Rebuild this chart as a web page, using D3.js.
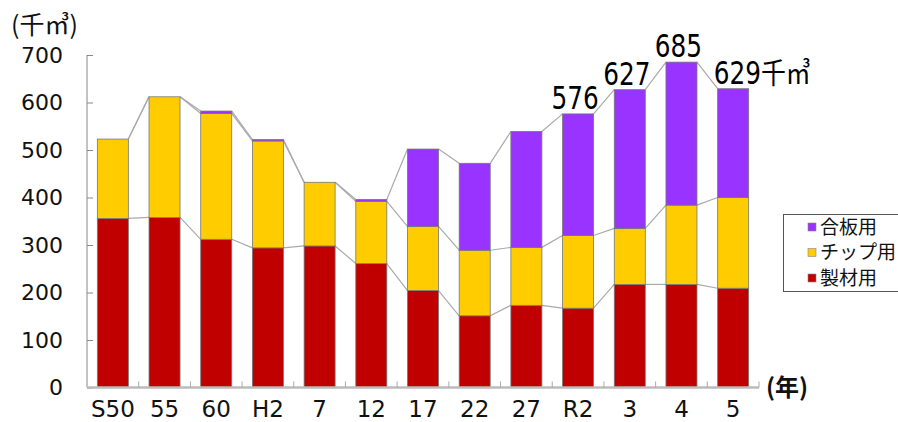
<!DOCTYPE html>
<html>
<head>
<meta charset="utf-8">
<script src="https://cdn.jsdelivr.net/npm/d3@7"></script>
<style>
  body { margin: 0; background: #fff; }
  svg { display: block; }
</style>
</head>
<body>
<div id="chart"></div>
<script>
// categories (year labels) and series values (千㎥)
const years = ["S50", "55", "60", "H2", "7", "12", "17", "22", "27", "R2", "3", "4", "5"];
const sawn    = [356, 358, 312, 294, 298, 261, 204, 151, 173, 167, 217, 217, 209]; // 製材用
const chip    = [167, 254, 265, 225, 134, 131, 135, 138, 122, 153, 118, 167, 191]; // チップ用
const plywood = [0, 0, 5, 3, 0, 4, 163, 183, 244, 256, 292, 301, 229];             // 合板用
const seriesNames = ["製材用", "チップ用", "合板用"];
const seriesColors = ["#C00000", "#FFCC00", "#9933FF"];
const yTicks = [0, 100, 200, 300, 400, 500, 600, 700];
// total labels shown above the last bars
const totalLabels = [
  { year: "R2", text: "576", unit: "" },
  { year: "3", text: "627", unit: "" },
  { year: "4", text: "685", unit: "" },
  { year: "5", text: "629", unit: "千㎥" }
];

const W = 898, H = 422;
const svg = d3.select("#chart").append("svg")
  .attr("width", W)
  .attr("height", H);

const x = d3.scaleBand().domain(years).range([87, 759]).paddingInner(0.4).paddingOuter(0.2);
const y = d3.scaleLinear().domain([0, 700]).range([387.5, 55]);

// build stacked table
const table = years.map((yr, i) => ({ year: yr, s0: sawn[i], s1: chip[i], s2: plywood[i] }));
const stack = d3.stack().keys(["s0", "s1", "s2"])(table);

// connecting lines between bars, at each cumulative level
const levels = stack.map(layer => layer.map(d => d[1]));
levels.forEach(lv => {
  for (let i = 0; i < years.length - 1; i++) {
    svg.append("line")
      .attr("x1", x(years[i]) + x.bandwidth())
      .attr("y1", y(lv[i]))
      .attr("x2", x(years[i + 1]))
      .attr("y2", y(lv[i + 1]))
      .style("stroke", "#aaa")
      .style("stroke-width", 1.2);
  }
});

// bars
stack.forEach((layer, k) => {
  svg.append("g").selectAll("rect")
    .data(layer.filter(d => d[1] > d[0]))
    .enter().append("rect")
    .attr("x", d => x(d.data.year))
    .attr("y", d => y(d[1]))
    .attr("width", x.bandwidth())
    .attr("height", d => y(d[0]) - y(d[1]))
    .style("fill", seriesColors[k])
    .style("stroke", "#777")
    .style("stroke-width", 0.8);
});

// y axis
const yAxis = svg.append("g").attr("transform", "translate(87,0)")
  .call(d3.axisRight(y).tickValues(yTicks).tickSize(6).tickFormat(""));
yAxis.select(".domain").attr("d", "M0," + y(700) + "V" + y(0)).style("stroke", "#888");
yAxis.selectAll(".tick line").style("stroke", "#888");

svg.append("g").selectAll("text")
  .data(yTicks)
  .enter().append("text")
  .attr("x", 63)
  .attr("y", d => y(d))
  .attr("dy", "0.36em")
  .attr("text-anchor", "end")
  .style("font-family", "DejaVu Sans")
  .style("font-size", "22px")
  .style("fill", "#111")
  .text(d => d);

// x axis
svg.append("line")
  .attr("x1", 87).attr("x2", 759)
  .attr("y1", y(0)).attr("y2", y(0))
  .style("stroke", "#bbb")
  .style("stroke-width", 2.5);
const step = x.step();
for (let i = 1; i <= years.length; i++) {
  const tx = 87 + step * i;
  svg.append("line")
    .attr("x1", tx).attr("x2", tx)
    .attr("y1", y(0)).attr("y2", y(0) - 6)
    .style("stroke", "#aaa");
}
svg.append("g").selectAll("text")
  .data(years)
  .enter().append("text")
  .attr("x", d => x(d) + x.bandwidth() / 2)
  .attr("y", 417)
  .attr("text-anchor", "middle")
  .style("font-family", "DejaVu Sans")
  .style("font-size", "23px")
  .style("fill", "#111")
  .text(d => d);

// axis titles
svg.append("text")
  .attr("x", 11).attr("y", 34)
  .style("font-family", "Noto Sans CJK JP")
  .style("font-size", "25px")
  .style("fill", "#111")
  .text("(千㎥)");
svg.append("text")
  .attr("x", 766).attr("y", 396)
  .style("font-family", "Noto Sans CJK JP")
  .style("font-size", "24px")
  .style("font-weight", "bold")
  .style("fill", "#111")
  .text("(年)");

// total labels
const totals = years.map((yr, i) => sawn[i] + chip[i] + plywood[i]);
totalLabels.forEach(l => {
  const i = years.indexOf(l.year);
  const cx = x(l.year) + x.bandwidth() / 2;
  const by = y(totals[i]) - 5;
  const g = svg.append("g");
  const t = g.append("text")
    .style("font-family", "Liberation Sans Narrow, DejaVu Sans Condensed")
    .style("font-size", "32px")
    .style("fill", "#000");
  t.append("tspan").text(l.text);
  if (l.unit) {
    t.append("tspan").style("font-family", "Noto Sans CJK JP").style("font-size", "29px").text(l.unit);
    g.attr("transform", "translate(" + (x(l.year) - 4) + "," + by + ") scale(0.86,1)");
  } else {
    t.attr("text-anchor", "middle");
    g.attr("transform", "translate(" + (cx - 3) + "," + by + ") scale(0.86,1)");
  }
});

// legend
const lg = svg.append("g");
lg.append("rect")
  .attr("x", 783.5).attr("y", 214.5)
  .attr("width", 130).attr("height", 77)
  .style("fill", "#fff")
  .style("stroke", "#555");
const legendOrder = [2, 1, 0];
legendOrder.forEach((k, j) => {
  const ly = 227 + j * 25.5;
  lg.append("rect")
    .attr("x", 808).attr("y", ly - 4)
    .attr("width", 8).attr("height", 8)
    .style("fill", seriesColors[k])
    .style("stroke", "#888")
    .style("stroke-width", 0.6);
  lg.append("text")
    .attr("x", 820).attr("y", ly)
    .attr("dy", "0.36em")
    .style("font-family", "Noto Sans CJK JP")
    .style("font-size", "19px")
    .style("fill", "#111")
    .text(seriesNames[k]);
});
</script>
</body>
</html>
